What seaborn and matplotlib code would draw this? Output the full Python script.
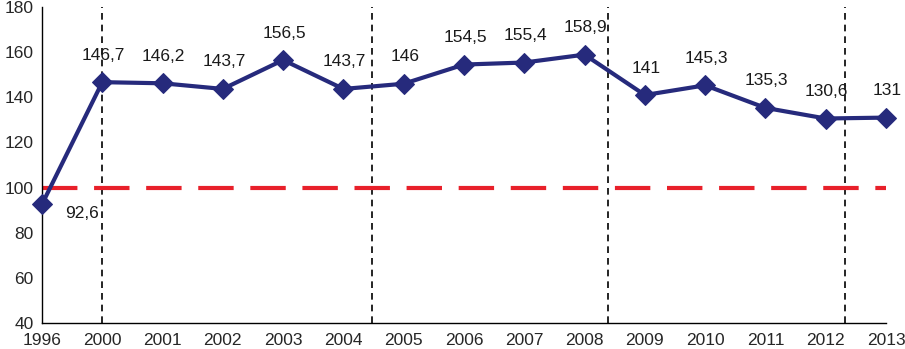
import matplotlib
matplotlib.use("Agg")
import matplotlib.pyplot as plt
import seaborn as sns
import pandas as pd

years = ["1996", "2000", "2001", "2002", "2003", "2004", "2005", "2006",
         "2007", "2008", "2009", "2010", "2011", "2012", "2013"]
values = [92.6, 146.7, 146.2, 143.7, 156.5, 143.7, 146, 154.5,
          155.4, 158.9, 141, 145.3, 135.3, 130.6, 131]
labels = ["92,6", "146,7", "146,2", "143,7", "156,5", "143,7", "146", "154,5",
          "155,4", "158,9", "141", "145,3", "135,3", "130,6", "131"]
reference_level = 100
divider_positions = [1, 5.47, 9.39, 13.32]

sns.set_style("white")
plt.rcParams['font.family'] = ['Liberation Sans', 'DejaVu Sans']

df = pd.DataFrame({"pos": range(len(years)), "value": values})

fig = plt.figure(figsize=(9.05, 3.49), dpi=100)
ax = fig.add_axes([42/905, 26/349, 844/905, 316/349])

for xv in divider_positions:
    ax.axvline(xv, color="black", lw=1.2, ls=(0, (4, 3)), zorder=1)

ax.axhline(reference_level, color="#E8202A", lw=3, ls=(0, (8.5, 4)), zorder=2)

sns.lineplot(data=df, x="pos", y="value", ax=ax, color="#262A7C", lw=3,
             marker="D", markersize=10, markeredgecolor="#262A7C", zorder=3,
             clip_on=False)

fs = 12.5
for i, (v, lab) in enumerate(zip(values, labels)):
    if i == 0:
        ax.annotate(lab, (i, v), xytext=(40, -9), textcoords="offset pixels",
                    ha="center", va="center", fontsize=fs, color="#1a1a1a")
    else:
        ax.annotate(lab, (i, v), xytext=(1, 27), textcoords="offset pixels",
                    ha="center", va="center", fontsize=fs, color="#1a1a1a")

ax.set_xlim(0, 14)
ax.set_ylim(40, 180)
ax.set_xticks(range(len(years)))
ax.set_xticklabels(years)
ax.set_yticks(range(40, 181, 20))
ax.set_xlabel("")
ax.set_ylabel("")
for s in ["top", "right"]:
    ax.spines[s].set_visible(False)
for s in ["left", "bottom"]:
    ax.spines[s].set_color("black")
    ax.spines[s].set_linewidth(1)
ax.tick_params(axis="x", direction="inout", length=6, width=1, labelsize=fs, pad=4)
ax.tick_params(axis="y", direction="out", length=4, width=1, labelsize=fs, pad=2)

fig.savefig("out.png", dpi=100)
